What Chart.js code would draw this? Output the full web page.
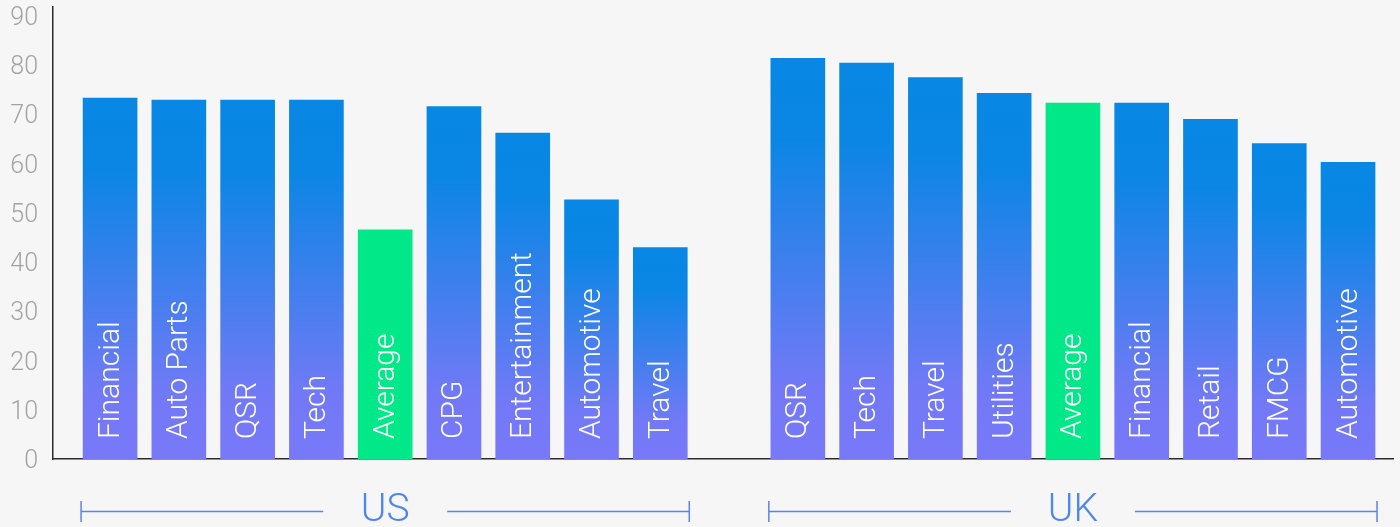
<!DOCTYPE html>
<html>
<head>
<meta charset="utf-8">
<script src="https://cdn.jsdelivr.net/npm/chart.js@4"></script>
<style>
  html, body { margin: 0; padding: 0; background: #f6f6f6; }
  #wrap { width: 1400px; height: 527px; position: relative; }
</style>
</head>
<body>
<div id="wrap"><canvas id="chart"></canvas></div>
<script>
var usLabels = ['Financial', 'Auto Parts', 'QSR', 'Tech', 'Average', 'CPG', 'Entertainment', 'Automotive', 'Travel'];
var usValues = [73.2, 72.8, 72.8, 72.8, 46.5, 71.5, 66.1, 52.6, 42.9];
var ukLabels = ['QSR', 'Tech', 'Travel', 'Utilities', 'Average', 'Financial', 'Retail', 'FMCG', 'Automotive'];
var ukValues = [81.3, 80.3, 77.4, 74.2, 72.2, 72.2, 68.9, 64.0, 60.2];
var groupNames = ['US', 'UK'];
var yTicks = [0, 10, 20, 30, 40, 50, 60, 70, 80, 90];

// one gap slot between the two groups
var labels = [];
var points = [];
usLabels.forEach(function(l, i) {
    labels.push(l);
    points.push({ x: i, y: usValues[i] });
});
var ukStart = usLabels.length + 1;
ukLabels.forEach(function(l, i) {
    labels.push(l);
    points.push({ x: ukStart + i, y: ukValues[i] });
});
var groups = [
    { name: groupNames[0], from: 0, to: usLabels.length - 1 },
    { name: groupNames[1], from: usLabels.length, to: labels.length - 1 }
];

function barColor(ctx) {
    if (ctx.type !== 'data') return '#0a86e4';
    if (labels[ctx.dataIndex] === 'Average') return '#00e887';
    var chart = ctx.chart;
    var y = chart.scales.y;
    if (!chart.chartArea || !y) return '#0a86e4';
    var top = y.getPixelForValue(ctx.raw.y);
    var bottom = y.getPixelForValue(0);
    var g = chart.ctx.createLinearGradient(0, top, 0, bottom);
    g.addColorStop(0, '#0887e4');
    g.addColorStop(0.2, '#0b86e5');
    g.addColorStop(0.82, '#7279f6');
    g.addColorStop(1, '#7879f8');
    return g;
}

var barText = {
    id: 'barText',
    afterDatasetsDraw: function(chart) {
        var c = chart.ctx;
        var meta = chart.getDatasetMeta(0);
        c.save();
        c.fillStyle = '#ffffff';
        c.font = '300 30px Roboto';
        c.textAlign = 'left';
        c.textBaseline = 'middle';
        meta.data.forEach(function(bar, i) {
            c.save();
            c.translate(bar.x, bar.base - 20);
            c.rotate(-Math.PI / 2);
            c.fillText(labels[i], 0, 1);
            c.restore();
        });
        c.restore();
    }
};

var groupBrackets = {
    id: 'groupBrackets',
    afterDraw: function(chart) {
        var c = chart.ctx;
        var meta = chart.getDatasetMeta(0);
        var yLine = 511.5;
        c.save();
        c.font = '300 39px Roboto';
        c.textAlign = 'center';
        c.textBaseline = 'alphabetic';
        groups.forEach(function(g) {
            var first = meta.data[g.from];
            var last = meta.data[g.to];
            var x0 = first.x - first.width / 2 - 2;
            var x1 = last.x + last.width / 2 + 2;
            var mid = (x0 + x1) / 2;
            var gap = 62;
            c.strokeStyle = '#5a84ec';
            c.lineWidth = 1.5;
            c.beginPath();
            c.moveTo(x0, yLine); c.lineTo(mid - gap, yLine);
            c.moveTo(mid + gap, yLine); c.lineTo(x1, yLine);
            c.moveTo(x0, 501); c.lineTo(x0, 522);
            c.moveTo(x1, 501); c.lineTo(x1, 522);
            c.stroke();
            c.fillStyle = '#4c86ee';
            c.fillText(g.name, mid, 521);
        });
        c.restore();
    }
};

new Chart(document.getElementById('chart'), {
    type: 'bar',
    data: {
        datasets: [{
            data: points,
            backgroundColor: barColor,
            borderWidth: 0,
            barThickness: 54
        }]
    },
    options: {
        responsive: true,
        maintainAspectRatio: false,
        animation: false,
        layout: { padding: { top: 7, right: 7, bottom: 68, left: 0 } },
        plugins: { legend: { display: false }, tooltip: { enabled: false } },
        scales: {
            x: {
                type: 'linear',
                offset: false,
                bounds: 'data',
                min: -0.83,
                max: 18.654,
                grid: { display: false, drawTicks: false, offset: false },
                border: { display: true, color: '#2b2b2b', width: 1.5 },
                ticks: { display: false }
            },
            y: {
                min: 0,
                max: 91.7,
                afterBuildTicks: function(axis) {
                    axis.ticks = yTicks.map(function(v) { return { value: v }; });
                },
                afterFit: function(axis) {
                    axis.width = 53;
                    axis.paddingTop = 0;
                    axis.paddingBottom = 0;
                },
                grid: { display: false, drawTicks: false },
                border: { display: true, color: '#2b2b2b', width: 1.5 },
                ticks: {
                    color: '#a3a3a3',
                    padding: 15,
                    labelOffset: 3,
                    font: { family: 'Roboto', size: 25, weight: 300 }
                }
            }
        }
    },
    plugins: [barText, groupBrackets]
});
</script>
</body>
</html>
